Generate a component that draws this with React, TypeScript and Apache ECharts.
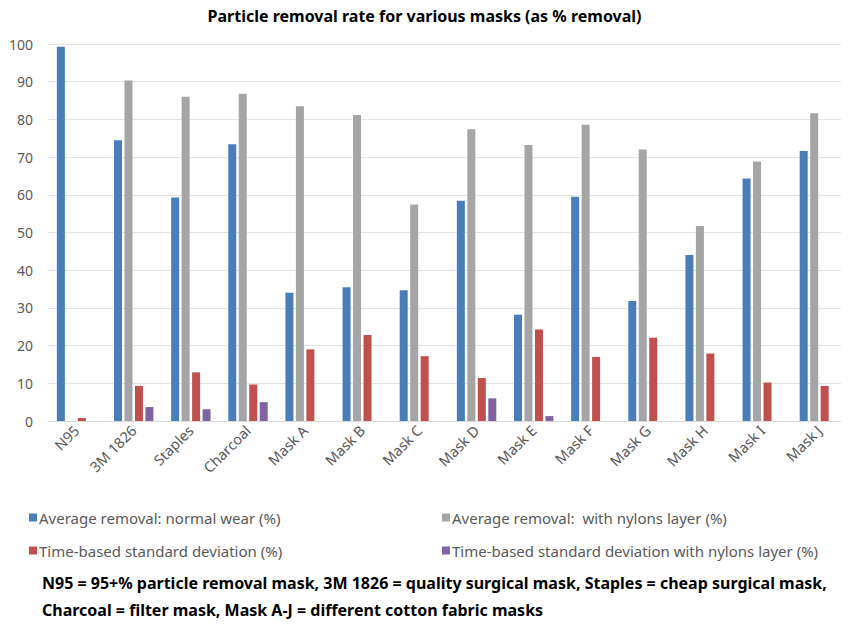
import React, { useEffect, useRef } from "react";
import * as echarts from "echarts";

const categories = [
  "N95", "3M 1826", "Staples", "Charcoal", "Mask A", "Mask B", "Mask C",
  "Mask D", "Mask E", "Mask F", "Mask G", "Mask H", "Mask I", "Mask J",
];

const normalWear = [99.3, 74.5, 59.3, 73.4, 34.0, 35.5, 34.7, 58.4, 28.2, 59.5, 31.8, 44.0, 64.3, 71.6];
const withNylons = [null, 90.3, 86.0, 86.8, 83.5, 81.2, 57.4, 77.4, 73.2, 78.6, 72.0, 51.7, 68.8, 81.6];
const stdDev = [0.8, 9.3, 12.9, 9.7, 19.0, 22.8, 17.2, 11.4, 24.3, 17.0, 22.1, 17.9, 10.2, 9.3];
const stdDevNylons = [null, 3.7, 3.1, 5.0, null, null, null, 6.0, 1.3, null, null, null, null, null];

const seriesNames = [
  "Average removal: normal wear (%)",
  "Average removal:  with nylons layer (%)",
  "Time-based standard deviation (%)",
  "Time-based standard deviation with nylons layer (%)",
];
const colors = ["#4A7EBB", "#A5A5A5", "#C0504D", "#8064A2"];

const noteLines = [
  "N95 = 95+% particle removal mask, 3M 1826 = quality surgical mask, Staples = cheap surgical mask,",
  "Charcoal = filter mask, Mask A-J = different cotton fabric masks",
];

const FONT = "'Noto Sans', sans-serif";

const MaskChart: React.FC = () => {
  const chartRef = useRef<HTMLDivElement | null>(null);

  useEffect(() => {
    if (!chartRef.current) return;
    const chart = echarts.init(chartRef.current, undefined, { renderer: "svg" });

    const legendPos = [
      { left: 29, top: 510 },
      { left: 442, top: 510 },
      { left: 29, top: 543 },
      { left: 442, top: 543 },
    ];

    const options = {
      animation: false,
      color: colors,
      title: {
        text: "Particle removal rate for various masks (as % removal)",
        left: "center",
        top: 3,
        textStyle: { fontFamily: FONT, fontSize: 16, fontWeight: "bold", color: "#000" },
      },
      legend: seriesNames.map((name, i) => ({
        data: [name],
        left: legendPos[i].left,
        top: legendPos[i].top,
        icon: "rect",
        itemWidth: 8,
        itemHeight: 8,
        itemGap: 4,
        padding: 0,
        selectedMode: false,
        textStyle: { fontFamily: FONT, fontSize: 15, color: "#595959", padding: [0, 0, 0, -3] },
      })),
      grid: { left: 48, right: 1, top: 44, bottom: 209 },
      xAxis: {
        type: "category",
        data: categories,
        axisLine: { lineStyle: { color: "#D9D9D9" } },
        axisTick: { show: false },
        axisLabel: {
          interval: 0,
          rotate: 45,
          margin: 7,
          fontFamily: FONT,
          fontSize: 14.5,
          color: "#595959",
        },
      },
      yAxis: {
        type: "value",
        min: 0,
        max: 100,
        interval: 10,
        axisLabel: { fontFamily: FONT, fontSize: 14, color: "#595959", margin: 15 },
        splitLine: { lineStyle: { color: "#E4E4E4" } },
      },
      series: [normalWear, withNylons, stdDev, stdDevNylons].map((values, i) => ({
        name: seriesNames[i],
        type: "bar",
        data: values,
        barGap: "31%",
        barCategoryGap: "31%",
        itemStyle: { color: colors[i] },
      })),
      graphic: noteLines.map((line, i) => ({
        type: "text",
        left: 42,
        top: 575 + i * 27,
        style: {
          text: line,
          fontFamily: FONT,
          fontSize: 16,
          fontWeight: "bold",
          fill: "#000",
        },
      })),
    };

    chart.setOption(options);

    const onResize = () => chart.resize();
    window.addEventListener("resize", onResize);

    return () => {
      window.removeEventListener("resize", onResize);
      chart.dispose();
    };
  }, []);

  return <div ref={chartRef} style={{ width: "849px", height: "630px" }} />;
};

export default function App() {
  return (
    <div style={{ margin: -8 }}>
      <MaskChart />
    </div>
  );
}
